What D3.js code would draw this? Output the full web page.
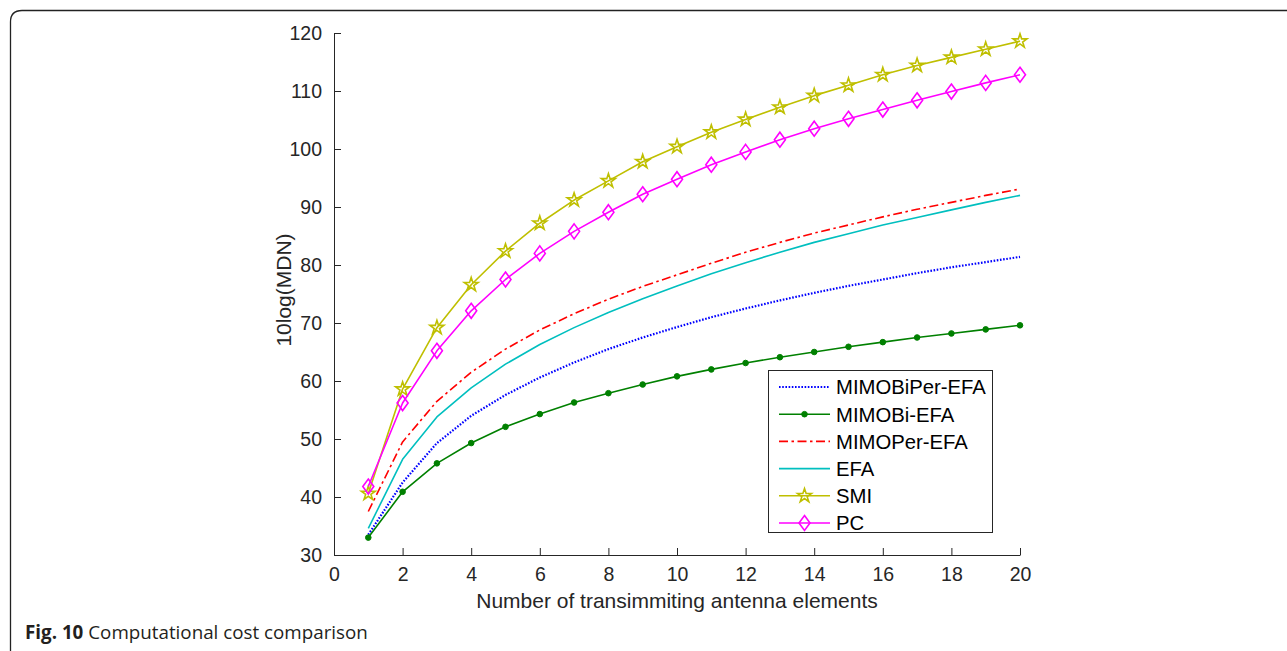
<!DOCTYPE html>
<html><head><meta charset="utf-8">
<script src="https://cdn.jsdelivr.net/npm/d3@7"></script>
<style>html,body{margin:0;padding:0;background:#fff;}svg{display:block;}</style>
</head><body>
<svg id="chart" width="1287" height="651"></svg>
<script>
const antennas = [1,2,3,4,5,6,7,8,9,10,11,12,13,14,15,16,17,18,19,20];
const mimoBiPerEFA = [33.5,42.5,49.3,54.0,57.6,60.6,63.2,65.5,67.5,69.3,71.0,72.5,73.9,75.2,76.4,77.5,78.6,79.6,80.5,81.4];
const mimoBiEFA = [33.0,40.9,45.8,49.3,52.1,54.3,56.3,57.9,59.4,60.8,62.0,63.1,64.1,65.0,65.9,66.7,67.5,68.2,68.9,69.6];
const mimoPerEFA = [37.5,49.5,56.5,61.5,65.5,68.8,71.6,74.1,76.3,78.3,80.3,82.2,83.9,85.5,86.9,88.3,89.6,90.8,92.0,93.1];
const efa = [34.6,46.5,53.8,58.8,62.9,66.3,69.2,71.8,74.2,76.4,78.5,80.4,82.2,83.9,85.4,86.9,88.2,89.5,90.8,92.0];
const smi = [40.6,58.6,69.2,76.6,82.4,87.2,91.2,94.5,97.8,100.4,102.9,105.1,107.2,109.2,111.0,112.8,114.4,115.8,117.2,118.6];
const pc = [41.8,56.2,65.2,72.1,77.5,82.0,85.8,89.1,92.2,94.8,97.3,99.5,101.6,103.5,105.2,106.8,108.4,109.9,111.4,112.8];
const seriesNames = ["MIMOBiPer-EFA","MIMOBi-EFA","MIMOPer-EFA","EFA","SMI","PC"];
const xTicks = [0,2,4,6,8,10,12,14,16,18,20];
const yTicks = [30,40,50,60,70,80,90,100,110,120];
const xLabel = "Number of transimmiting antenna elements";
const yLabel = "10log(MDN)";
const captionBold = "Fig. 10";
const captionText = " Computational cost comparison";

const series = [
  {name: seriesNames[0], values: mimoBiPerEFA, color: "#0000ff", dash: "1.6 1.6", width: 2.2, marker: null},
  {name: seriesNames[1], values: mimoBiEFA, color: "#008000", dash: null, width: 1.6, marker: "dot"},
  {name: seriesNames[2], values: mimoPerEFA, color: "#ff0000", dash: "9 3.5 2.5 3.5", width: 1.6, marker: null},
  {name: seriesNames[3], values: efa, color: "#00bfbf", dash: null, width: 1.6, marker: null},
  {name: seriesNames[4], values: smi, color: "#bfbf00", dash: null, width: 1.6, marker: "star"},
  {name: seriesNames[5], values: pc, color: "#ff00ff", dash: null, width: 1.6, marker: "diamond"}
];

const svg = d3.select("#chart");
const x = d3.scaleLinear().domain([0,20]).range([334,1020]);
const y = d3.scaleLinear().domain([30,120]).range([555,33]);
const axisColor = "#262626";
const font = "'Liberation Sans', Arial, sans-serif";

// outer figure frame
svg.append("path")
  .attr("d", "M10.5,660 L10.5,22 Q10.5,10.5 22,10.5 L1300,10.5")
  .attr("fill","none").attr("stroke","#222").attr("stroke-width",1.3);

// axes
const gx = svg.append("g").attr("transform","translate(0,555)")
  .call(d3.axisBottom(x).tickValues(xTicks).tickSizeInner(-7).tickSizeOuter(0).tickPadding(9));
const gy = svg.append("g").attr("transform","translate(334,0)")
  .call(d3.axisLeft(y).tickValues(yTicks).tickSizeInner(-7).tickSizeOuter(0).tickPadding(12));
[gx,gy].forEach(g=>{
  g.selectAll("path,line").attr("stroke",axisColor).attr("stroke-width",1);
  g.selectAll("text").attr("fill","#262626").attr("font-family",font).attr("font-size",19.5);
});
gx.selectAll("text").attr("dy","0.85em");

svg.append("text").attr("x",677).attr("y",608).attr("text-anchor","middle")
  .attr("font-family",font).attr("font-size",21).attr("fill","#262626").text(xLabel);
svg.append("text").attr("transform","translate(291,290) rotate(-90)").attr("text-anchor","middle")
  .attr("font-family",font).attr("font-size",21).attr("fill","#262626").text(yLabel);

const line = d3.line().x((d,i)=>x(antennas[i])).y(d=>y(d));

function diamondPath(w,h){return `M0,${-h/2}L${w/2},0L0,${h/2}L${-w/2},0Z`;}
const starPath = d3.symbol().type(d3.symbolStar).size(60)();

function drawMarker(g, type, color, cx, cy){
  if(type==="dot"){
    g.append("circle").attr("cx",cx).attr("cy",cy).attr("r",2.8).attr("fill",color).attr("stroke",color);
  } else if(type==="star"){
    g.append("path").attr("d",starPath).attr("transform",`translate(${cx},${cy})`)
      .attr("fill","none").attr("stroke",color).attr("stroke-width",1.6);
  } else if(type==="diamond"){
    g.append("path").attr("d",diamondPath(11,15)).attr("transform",`translate(${cx},${cy})`)
      .attr("fill","none").attr("stroke",color).attr("stroke-width",1.6);
  }
}

series.forEach(s=>{
  const g = svg.append("g");
  g.append("path").datum(s.values).attr("d",line).attr("fill","none")
    .attr("stroke",s.color).attr("stroke-width",s.width)
    .attr("stroke-dasharray",s.dash).attr("stroke-linejoin","round");
  if(s.marker){
    s.values.forEach((v,i)=>drawMarker(g,s.marker,s.color,x(antennas[i]),y(v)));
  }
});

// legend
const lg = svg.append("g");
lg.append("rect").attr("x",768.5).attr("y",370.5).attr("width",224).attr("height",162)
  .attr("fill","#fff").attr("stroke","#262626").attr("stroke-width",1);
series.forEach((s,i)=>{
  const ly = 387 + i*27.2;
  lg.append("line").attr("x1",779).attr("x2",830).attr("y1",ly).attr("y2",ly)
    .attr("stroke",s.color).attr("stroke-width",s.width).attr("stroke-dasharray",s.dash);
  if(s.marker) drawMarker(lg,s.marker,s.color,804.5,ly);
  lg.append("text").attr("x",836).attr("y",ly).attr("dy","0.36em")
    .attr("font-family",font).attr("font-size",20.3).attr("fill","#000").text(s.name);
});

// caption
const cap = svg.append("text").attr("x",25).attr("y",639)
  .attr("font-family","'Open Sans', 'Noto Sans', sans-serif").attr("font-size",18.8).attr("fill","#231f20");
cap.append("tspan").attr("font-weight","bold").text(captionBold);
cap.append("tspan").text(captionText);
</script>
</body></html>
